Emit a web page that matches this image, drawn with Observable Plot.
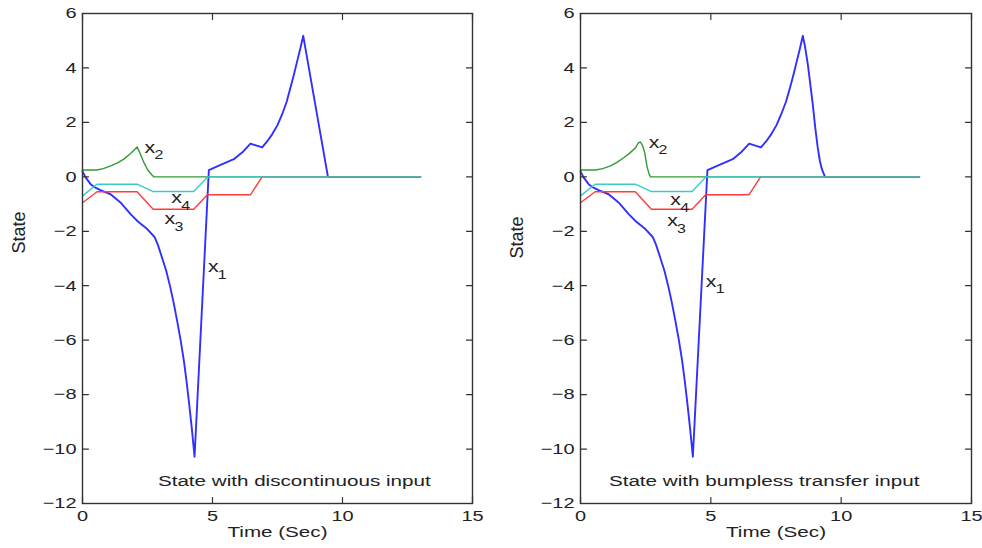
<!DOCTYPE html>
<html>
<head>
<meta charset="utf-8">
<script src="https://cdn.jsdelivr.net/npm/d3@7"></script>
<script src="https://cdn.jsdelivr.net/npm/@observablehq/plot@0.6"></script>
<style>
  body { margin: 0; background: #fff; }
  #row { display: flex; width: 982px; height: 548px; }
  #row svg { display: block; flex: none; }
</style>
</head>
<body>
<div id="row"></div>
<script>
// ---------- axis ticks ----------
const xTicks = [0, 5, 10, 15];
const yTicks = [-12, -10, -8, -6, -4, -2, 0, 2, 4, 6];

// ---------- series ----------
const seriesNames = ["x1", "x2", "x3", "x4"];
const seriesColors = ["#3030ff", "#339933", "#ff3c3c", "#38cccc"];
const seriesWidths = [1.9, 1.4, 1.4, 1.4];

// Left panel: state with discontinuous input
const leftX1T = [0, 0.12, 0.31, 0.5, 0.69, 1.08, 1.46, 1.85, 2.13, 2.49, 2.77, 2.9, 3.06, 3.22, 3.38, 3.51, 3.64, 3.77, 3.9, 4.0, 4.09, 4.2, 4.31, 4.86, 5.31, 5.82, 6.15, 6.46, 6.91, 7.1, 7.3, 7.5, 7.68, 7.85, 8.0, 8.13, 8.26, 8.38, 8.49, 9.44, 13];
const leftX1V = [0.2, -0.02, -0.27, -0.4, -0.49, -0.64, -0.94, -1.37, -1.64, -1.92, -2.21, -2.5, -2.97, -3.45, -4.07, -4.65, -5.29, -5.98, -6.76, -7.5, -8.24, -9.2, -10.28, 0.25, 0.44, 0.65, 0.9, 1.22, 1.08, 1.3, 1.57, 1.9, 2.3, 2.75, 3.28, 3.75, 4.26, 4.72, 5.18, 0, 0];
const leftX2T = [0, 0.56, 0.8, 1.08, 1.33, 1.59, 1.85, 2.1, 2.23, 2.36, 2.51, 2.68, 2.74, 13];
const leftX2V = [0.25, 0.25, 0.3, 0.4, 0.5, 0.65, 0.86, 1.1, 0.83, 0.53, 0.25, 0.06, 0, 0];
const leftX3T = [0, 0.56, 2.1, 2.72, 4.28, 4.8, 6.46, 6.91, 13];
const leftX3V = [-0.95, -0.55, -0.55, -1.19, -1.19, -0.66, -0.66, 0, 0];
const leftX4T = [0, 0.56, 2.1, 2.72, 4.28, 4.82, 13];
const leftX4V = [-0.7, -0.27, -0.27, -0.54, -0.54, 0, 0];

// Right panel: state with bumpless transfer input
const rightX1T = [0, 0.12, 0.31, 0.5, 0.69, 1.08, 1.46, 1.85, 2.13, 2.49, 2.77, 2.9, 3.06, 3.22, 3.38, 3.51, 3.64, 3.77, 3.9, 4.0, 4.09, 4.2, 4.31, 4.87, 5.33, 5.84, 6.16, 6.47, 6.92, 7.12, 7.32, 7.52, 7.7, 7.88, 8.04, 8.17, 8.3, 8.42, 8.53, 8.62, 8.72, 8.91, 9.0, 9.1, 9.18, 9.26, 9.38, 13];
const rightX1V = [0.2, -0.02, -0.27, -0.4, -0.49, -0.64, -0.94, -1.37, -1.64, -1.92, -2.21, -2.5, -2.97, -3.45, -4.07, -4.65, -5.29, -5.98, -6.76, -7.5, -8.24, -9.2, -10.28, 0.25, 0.44, 0.65, 0.9, 1.22, 1.08, 1.3, 1.57, 1.9, 2.3, 2.75, 3.28, 3.75, 4.26, 4.72, 5.18, 4.75, 4.14, 2.67, 1.85, 1.08, 0.6, 0.28, 0, 0];
const rightX2T = [0, 0.58, 0.85, 1.15, 1.4, 1.67, 1.9, 2.12, 2.22, 2.3, 2.38, 2.46, 2.56, 2.64, 2.69, 13];
const rightX2V = [0.25, 0.25, 0.3, 0.4, 0.53, 0.71, 0.88, 1.08, 1.25, 1.28, 1.15, 0.9, 0.34, 0.08, 0, 0];
const rightX3T = [0, 0.56, 2.1, 2.72, 4.28, 4.8, 6.46, 6.91, 13];
const rightX3V = [-0.95, -0.55, -0.55, -1.19, -1.19, -0.66, -0.66, 0, 0];
const rightX4T = [0, 0.56, 2.1, 2.72, 4.28, 4.82, 13];
const rightX4V = [-0.7, -0.27, -0.27, -0.54, -0.54, 0, 0];

// Curve labels (x_i)
const labelSubs = ["1", "2", "3", "4"];
const leftLabelX = [5.03, 2.59, 3.36, 3.62];
const leftLabelY = [-3.31, 1.08, -1.56, -0.78];
const rightLabelX = [5.01, 2.82, 3.53, 3.65];
const rightLabelY = [-3.85, 1.26, -1.62, -0.85];

// Annotations
const leftNote = "State with discontinuous input";
const rightNote = "State with bumpless transfer input";
const leftNotePos = [2.9, -11.18];
const rightNotePos = [1.09, -11.18];
const xLabel = "Time (Sec)";
const yLabel = "State";

// ---------- helpers ----------
function rows(t, v) { return t.map((d, i) => ({t: d, v: v[i]})); }

const FONT = "'Liberation Sans', Arial, Helvetica, sans-serif";
const INK = "#222";
const AXIS = "#333";
const tickShape = {draw(context, l) { context.moveTo(0, 0); context.lineTo(0, -l); }};

function panel({series, labX, labY, note, notePos, width, marginLeft, marginRight, yLabelDy}) {
  const labels = labelSubs.map((s, i) => ({x: labX[i], y: labY[i], s}));
  const tick = {length: 6, anchor: "start", shape: tickShape, stroke: AXIS, strokeWidth: 1.2};
  return Plot.plot({
    width, height: 548,
    marginLeft, marginRight, marginTop: 13, marginBottom: 45,
    x: {domain: [0, 15]},
    y: {domain: [-12, 6]},
    style: {fontFamily: FONT, fontSize: "15px", color: INK, background: "white", overflow: "visible"},
    marks: [
      // curves
      ...series.map((d, i) => Plot.line(d, {x: "t", y: "v", stroke: seriesColors[i], strokeWidth: seriesWidths[i]})),
      // box
      Plot.frame({stroke: AXIS, strokeWidth: 1.4}),
      // inward ticks on all four sides
      Plot.vector(xTicks, {x: d => d, frameAnchor: "bottom", rotate: 0, ...tick}),
      Plot.vector(xTicks, {x: d => d, frameAnchor: "top", rotate: 180, ...tick}),
      Plot.vector(yTicks, {y: d => d, frameAnchor: "left", rotate: 90, ...tick}),
      Plot.vector(yTicks, {y: d => d, frameAnchor: "right", rotate: 270, ...tick}),
      // tick labels
      Plot.axisX(xTicks, {anchor: "bottom", tickSize: 0, tickPadding: 7, label: null, fill: INK, fontSize: 15}),
      Plot.axisY(yTicks, {anchor: "left", tickSize: 0, tickPadding: 6, label: null, fill: INK, fontSize: 15}),
      // axis titles
      Plot.text([xLabel], {frameAnchor: "bottom", dy: 33, fill: INK, fontSize: 15.5}),
      Plot.text([yLabel], {frameAnchor: "left", dx: -63, dy: yLabelDy, rotate: -90, fill: INK, fontSize: 18, className: "nostretch"}),
      // curve labels x_i
      Plot.text(labels, {x: "x", y: "y", text: () => "x", fill: INK, fontSize: 16}),
      Plot.text(labels, {x: "x", y: "y", text: "s", dx: 9, dy: 8, fill: INK, fontSize: 12}),
      // annotation
      Plot.text([note], {x: () => notePos[0], y: () => notePos[1], textAnchor: "start", fill: INK, fontSize: 15.5})
    ]
  });
}

function stretchText(svg, k) {
  svg.querySelectorAll("text").forEach(t => {
    if (t.closest(".nostretch")) return;
    if (!t.textContent) return;
    const len = t.getComputedTextLength();
    if (len > 0) {
      t.setAttribute("textLength", (len * k).toFixed(2));
      t.setAttribute("lengthAdjust", "spacingAndGlyphs");
    }
  });
}

const row = document.getElementById("row");
const left = panel({
  series: [rows(leftX1T, leftX1V), rows(leftX2T, leftX2V), rows(leftX3T, leftX3V), rows(leftX4T, leftX4V)],
  labX: leftLabelX, labY: leftLabelY, note: leftNote, notePos: leftNotePos,
  width: 491, marginLeft: 82, marginRight: 19, yLabelDy: -5
});
const right = panel({
  series: [rows(rightX1T, rightX1V), rows(rightX2T, rightX2V), rows(rightX3T, rightX3V), rows(rightX4T, rightX4V)],
  labX: rightLabelX, labY: rightLabelY, note: rightNote, notePos: rightNotePos,
  width: 491, marginLeft: 89, marginRight: 11, yLabelDy: 0
});
row.appendChild(left);
row.appendChild(right);
stretchText(left, 1.33);
stretchText(right, 1.33);
</script>
</body>
</html>
